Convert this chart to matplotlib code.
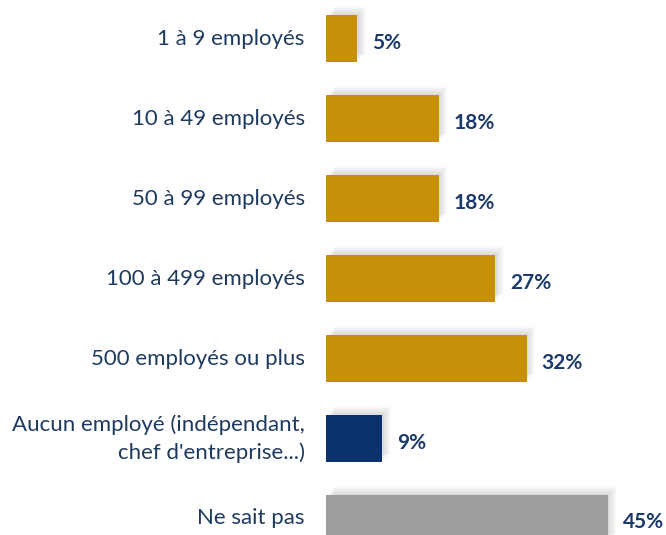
import matplotlib
matplotlib.use("Agg")
import matplotlib.pyplot as plt
import matplotlib.patheffects as pe

# données du graphique
categories = ["1 à 9 employés", "10 à 49 employés", "50 à 99 employés",
              "100 à 499 employés", "500 employés ou plus",
              "Aucun employé (indépendant,\nchef d'entreprise...)", "Ne sait pas"]
values = [5, 18, 18, 27, 32, 9, 45]
colors = ["#C8900A"] * 5 + ["#0B336B", "#9E9E9E"]

plt.rcParams['font.family'] = ['Lato', 'DejaVu Sans']

fig = plt.figure(figsize=(6.66, 5.35), dpi=100)
ax = fig.add_axes([326 / 666, 0, 340 / 666, 1])

y = list(range(len(values)))
# ombre floue : plusieurs couches décalées
shadow = [pe.SimplePatchShadow(offset=(d, d), shadow_rgbFace="black", alpha=0.025)
          for d in (6, 5, 4, 3, 2, 1)]
bars = ax.barh(y, values, height=0.5875, color=colors, zorder=3)
for b in bars:
    b.set_path_effects(shadow + [pe.Normal()])

ax.set_xlim(0, 45 * 340 / 282)
ax.set_ylim((535 - 38.5) / 80, -38.5 / 80)
ax.axis("off")

for yi, v in zip(y, values):
    ax.text(v + 2.4, yi + 0.05, f"{v}%", va="center", ha="left",
            fontsize=15, fontweight="bold", color="#1B3A6B")

for yi, c in zip(y, categories):
    ax.text(-3.4, yi, c, va="center", ha="right", fontsize=16,
            color="#1F3A5F", linespacing=1.45, clip_on=False)

fig.savefig("out.png", dpi=100)
